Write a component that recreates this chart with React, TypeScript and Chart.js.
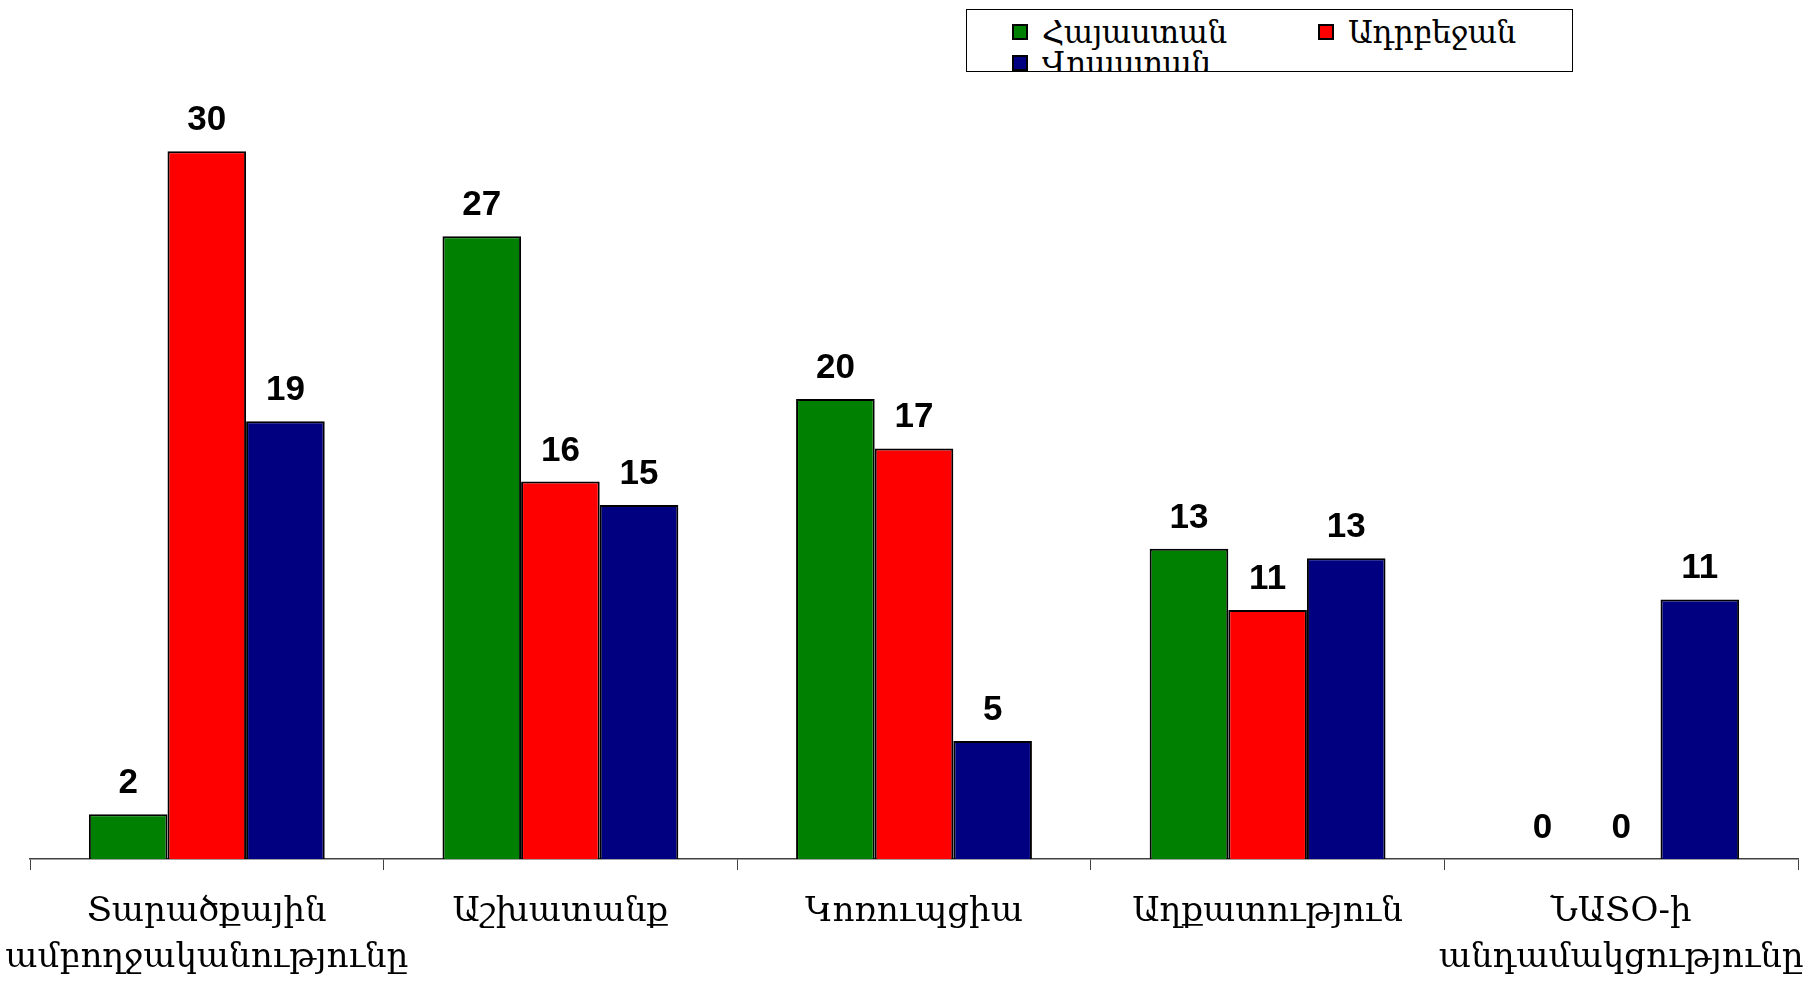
import React, { useEffect, useRef } from "react";
import { Chart, registerables } from "chart.js";

Chart.register(...registerables);

const categories: (string | string[])[] = [
  ["Տարածքային", "ամբողջականությունը"],
  "Աշխատանք",
  "Կոռուպցիա",
  "Աղքատություն",
  ["ՆԱՏՕ-ի", "անդամակցությունը"],
];

const seriesNames = ["Հայաստան", "Ադրբեջան", "Վրաստան"];
const seriesColors = ["#008000", "#FF0000", "#000080"];

// bar heights
const armeniaValues = [1.9, 26.4, 19.5, 13.15, 0];
const azerbaijanValues = [30, 16, 17.4, 10.55, 0];
const georgiaValues = [18.55, 15, 5, 12.75, 11];

// value labels printed above the bars
const armeniaLabels = [2, 27, 20, 13, 0];
const azerbaijanLabels = [30, 16, 17, 11, 0];
const georgiaLabels = [19, 15, 5, 13, 11];

const LABEL_FONT = "'DejaVu Serif', 'DejaVu Sans', serif";

const valueLabelsPlugin = {
  id: "valueLabels",
  afterDatasetsDraw(chart: any) {
    const ctx = chart.ctx;
    ctx.save();
    ctx.font = "bold 35px 'Liberation Sans', Arial, sans-serif";
    ctx.fillStyle = "#000";
    ctx.textAlign = "center";
    ctx.textBaseline = "alphabetic";
    chart.data.datasets.forEach((ds: any, i: number) => {
      const meta = chart.getDatasetMeta(i);
      meta.data.forEach((el: any, j: number) => {
        ctx.fillText(String(ds.valueLabels[j]), el.x, el.y - 21);
      });
    });
    ctx.restore();
  },
};

export default function App() {
  const canvasRef = useRef<HTMLCanvasElement | null>(null);

  useEffect(() => {
    document.body.style.margin = "0";
    const canvas = canvasRef.current;
    if (!canvas) return;
    const valuesList = [armeniaValues, azerbaijanValues, georgiaValues];
    const labelsList = [armeniaLabels, azerbaijanLabels, georgiaLabels];
    const chart = new Chart(canvas, {
      type: "bar",
      data: {
        labels: categories as any,
        datasets: seriesNames.map((name, i) => ({
          label: name,
          data: valuesList[i],
          valueLabels: labelsList[i],
          backgroundColor: seriesColors[i],
          borderColor: "#000",
          borderWidth: 2,
          categoryPercentage: 0.667,
          barPercentage: 1.0,
        })) as any,
      },
      options: {
        responsive: false,
        animation: false,
        layout: { padding: { left: 30, right: 13, top: 104, bottom: 0 } },
        plugins: {
          legend: { display: false },
          tooltip: { enabled: false },
          title: { display: false },
        },
        scales: {
          x: {
            offset: true,
            grid: {
              offset: true,
              drawOnChartArea: false,
              drawTicks: true,
              tickLength: 11,
              color: "#404040",
              lineWidth: 1,
            },
            border: { display: true, color: "#404040", width: 1.5 },
            ticks: {
              color: "#000",
              padding: 19,
              maxRotation: 0,
              minRotation: 0,
              autoSkip: false,
              font: { family: LABEL_FONT, size: 34, lineHeight: 1.35 },
            },
            afterFit(scale: any) {
              scale.height = 123;
              scale.paddingLeft = 0;
              scale.paddingRight = 0;
            },
          },
          y: {
            display: false,
            min: 0,
            max: 32,
          },
        },
      },
      plugins: [valueLabelsPlugin],
    });
    return () => chart.destroy();
  }, []);

  return (
    <div style={{ position: "absolute", left: 0, top: 0, width: 1811, height: 982, background: "#fff" }}>
      <canvas ref={canvasRef} width={1811} height={982} style={{ display: "block" }} />
      <div
        style={{
          position: "absolute",
          left: 966,
          top: 9,
          width: 607,
          height: 63,
          border: "1px solid #000",
          boxSizing: "border-box",
          overflow: "hidden",
          background: "#fff",
        }}
      >
        {seriesNames.map((name, i) => (
          <div
            key={name}
            style={{
              position: "absolute",
              left: 45 + (i % 2) * 306,
              top: 6 + Math.floor(i / 2) * 31,
              height: 31,
              display: "flex",
              alignItems: "center",
              whiteSpace: "nowrap",
              fontFamily: LABEL_FONT,
              fontSize: 31,
              letterSpacing: -0.5,
              color: "#000",
            }}
          >
            <span
              style={{
                display: "inline-block",
                width: 16,
                height: 16,
                boxSizing: "border-box",
                border: "2px solid #000",
                background: seriesColors[i],
                marginRight: 14,
                flexShrink: 0,
              }}
            />
            <span>{name}</span>
          </div>
        ))}
      </div>
    </div>
  );
}
